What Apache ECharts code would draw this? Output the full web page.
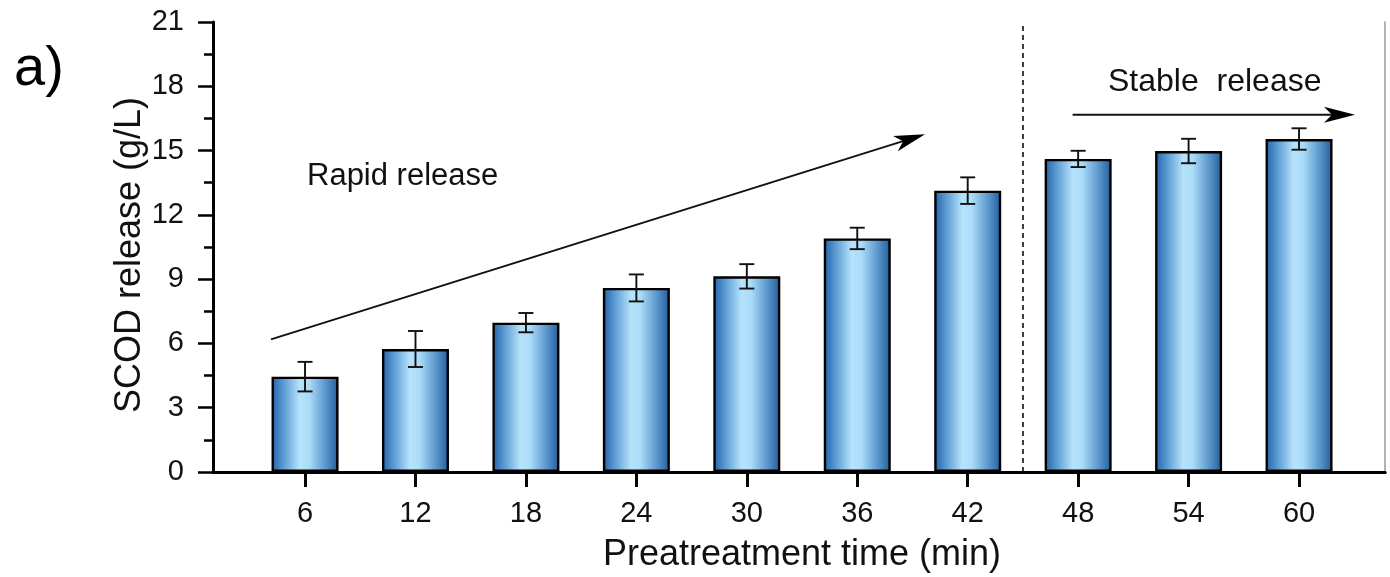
<!DOCTYPE html>
<html>
<head>
<meta charset="utf-8">
<script src="https://cdn.jsdelivr.net/npm/echarts@6/dist/echarts.min.js"></script>
<style>
  html, body { margin: 0; padding: 0; background: #fff; }
  #chart { width: 1390px; height: 577px; }
</style>
</head>
<body>
<div id="chart"></div>
<script>
// Pretreatment time (min)
const times = [6, 12, 18, 24, 30, 36, 42, 48, 54, 60];
// SCOD release (g/L)
const scod = [4.45, 5.74, 6.97, 8.59, 9.13, 10.90, 13.13, 14.61, 14.98, 15.54];
// standard deviation of each measurement
const scodErr = [0.69, 0.84, 0.45, 0.63, 0.57, 0.50, 0.62, 0.38, 0.57, 0.50];
// y axis ticks
const yTicks = [0, 3, 6, 9, 12, 15, 18, 21];
// boundary between rapid and stable phases
const phaseBoundary = 45;
// trend arrows [start, end] in axis units
const rapidArrow = [[4.15, 6.19], [39.68, 15.76]];
const stableArrow = [[47.7, 16.67], [63.04, 16.67]];

const FONT = 'Liberation Sans, Arial, sans-serif';

const barGradient = new echarts.graphic.LinearGradient(0, 0, 1, 0, [
  { offset: 0, color: '#2262a8' },
  { offset: 0.18, color: '#5c9bd3' },
  { offset: 0.42, color: '#b6e3fb' },
  { offset: 0.56, color: '#abdcf8' },
  { offset: 0.8, color: '#5d98cd' },
  { offset: 1, color: '#215c9c' }
]);

const errData = times.map((t, i) => [t, scod[i] - scodErr[i], scod[i] + scodErr[i]]);

function renderErr(params, api) {
  const x = api.value(0);
  const lo = api.coord([x, api.value(1)]);
  const hi = api.coord([x, api.value(2)]);
  const cap = 7.5;
  const style = { stroke: '#111', lineWidth: 1.9 };
  return {
    type: 'group',
    children: [
      { type: 'line', shape: { x1: lo[0], y1: lo[1], x2: hi[0], y2: hi[1] }, style },
      { type: 'line', shape: { x1: lo[0] - cap, y1: lo[1], x2: lo[0] + cap, y2: lo[1] }, style },
      { type: 'line', shape: { x1: hi[0] - cap, y1: hi[1], x2: hi[0] + cap, y2: hi[1] }, style }
    ]
  };
}

function renderArrow(params, api) {
  const a = api.coord([api.value(0), api.value(1)]);
  const b = api.coord([api.value(2), api.value(3)]);
  const dx = b[0] - a[0], dy = b[1] - a[1];
  const len = Math.sqrt(dx * dx + dy * dy);
  const ux = dx / len, uy = dy / len;
  const px = -uy, py = ux;
  const headLen = 31, halfW = 8, notch = 8;
  const back = [b[0] - ux * headLen, b[1] - uy * headLen];
  const notchPt = [b[0] - ux * (headLen - notch), b[1] - uy * (headLen - notch)];
  return {
    type: 'group',
    children: [
      { type: 'line', shape: { x1: a[0], y1: a[1], x2: notchPt[0], y2: notchPt[1] },
        style: { stroke: '#111', lineWidth: 2 } },
      { type: 'polygon', shape: { points: [
          b,
          [back[0] + px * halfW, back[1] + py * halfW],
          notchPt,
          [back[0] - px * halfW, back[1] - py * halfW]
        ] }, style: { fill: '#000' } }
    ]
  };
}

const chart = echarts.init(document.getElementById('chart'), null, { renderer: 'canvas' });

chart.setOption({
  animation: false,
  backgroundColor: '#fff',
  grid: { left: 213, right: 5, top: 22, bottom: 105 },
  xAxis: [
    {
      type: 'value', min: 1, max: 64.67, position: 'bottom',
      splitLine: { show: false },
      axisLine: { show: true, lineStyle: { color: '#000', width: 3 } },
      axisTick: { show: true, length: 15, lineStyle: { color: '#000', width: 3 }, customValues: times },
      axisLabel: { show: true, customValues: times, margin: 27, fontSize: 29, color: '#111', fontFamily: FONT }
    },
    {
      type: 'value', min: 1, max: 64.67, position: 'top',
      splitLine: { show: false },
      axisLine: { show: true, lineStyle: { color: '#000', width: 3 } },
      axisTick: { show: false }, axisLabel: { show: false }
    }
  ],
  yAxis: [
    {
      type: 'value', min: 0, max: 21, interval: 3, position: 'left',
      splitLine: { show: false },
      axisLine: { show: true, lineStyle: { color: '#000', width: 3 } },
      axisTick: { show: true, length: 15, lineStyle: { color: '#000', width: 2.5 } },
      minorTick: { show: true, splitNumber: 2, length: 9, lineStyle: { color: '#000', width: 2.5 } },
      axisLabel: {
        margin: 29, fontSize: 29, color: '#111', fontFamily: FONT,
        customValues: yTicks
      }
    },
    {
      type: 'value', min: 0, max: 21, position: 'right',
      splitLine: { show: false },
      axisLine: { show: true, lineStyle: { color: '#9a9a9a', width: 1.5 } },
      axisTick: { show: false }, axisLabel: { show: false }
    }
  ],
  series: [
    {
      type: 'bar',
      name: 'SCOD',
      data: times.map((t, i) => [t, scod[i]]),
      barWidth: 67,
      itemStyle: { color: barGradient, borderColor: '#000', borderWidth: 2.4 },
      markLine: {
        silent: true,
        symbol: ['none', 'none'],
        label: { show: false },
        lineStyle: { color: '#000', type: [5, 4], width: 1.5 },
        data: [{ xAxis: phaseBoundary }]
      },
      z: 2
    },
    {
      type: 'custom',
      name: 'error',
      data: errData,
      renderItem: renderErr,
      z: 5
    },
    {
      type: 'custom',
      name: 'trend',
      data: [
        [rapidArrow[0][0], rapidArrow[0][1], rapidArrow[1][0], rapidArrow[1][1]],
        [stableArrow[0][0], stableArrow[0][1], stableArrow[1][0], stableArrow[1][1]]
      ],
      renderItem: renderArrow,
      clip: false,
      z: 6
    }
  ],
  graphic: [
    { type: 'text', left: 14, top: 42,
      style: { text: 'a)', font: '56px ' + FONT, fill: '#000' } },
    { type: 'text', x: 130, y: 255, rotation: Math.PI / 2,
      style: { text: 'SCOD release (g/L)', font: '36px ' + FONT, fill: '#111',
        align: 'center', verticalAlign: 'middle' } },
    { type: 'text', x: 802, y: 555,
      style: { text: 'Preatreatment time (min)', font: '36px ' + FONT, fill: '#111',
        align: 'center', verticalAlign: 'middle' } },
    { type: 'text', x: 307, y: 176,
      style: { text: 'Rapid release', font: '31px ' + FONT, fill: '#111',
        align: 'left', verticalAlign: 'middle' } },
    { type: 'text', x: 1108, y: 82,
      style: { text: 'Stable  release', font: '32px ' + FONT, fill: '#111',
        align: 'left', verticalAlign: 'middle' } }
  ]
});
</script>
</body>
</html>
